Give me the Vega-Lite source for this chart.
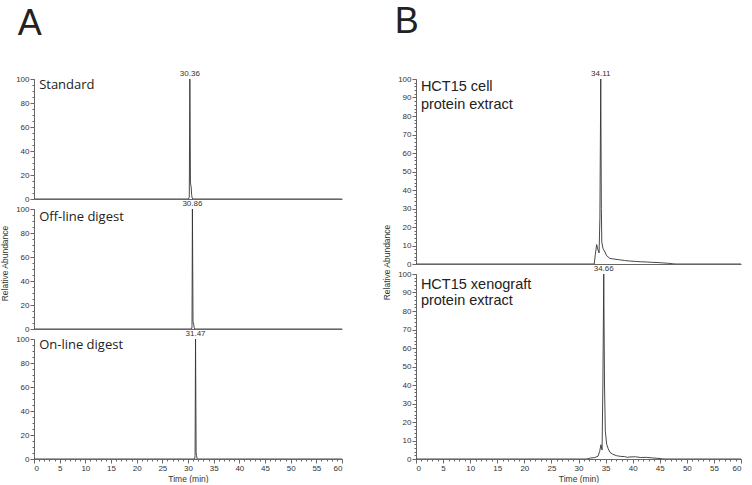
{
"$schema": "https://vega.github.io/schema/vega-lite/v6.json",
"padding": {"left": 0, "top": 4, "right": 0, "bottom": 0},
"background": "white",
"config": {
  "view": {"stroke": null},
  "axis": {"grid": false, "labelFont": "Liberation Sans", "labelFontSize": 8, "labelColor": "#333", "domainColor": "#666", "tickColor": "#666", "titleFont": "Liberation Sans", "titleFontSize": 8.5, "titleFontWeight": "normal", "titleColor": "#333", "labelPadding": 1},
  "title": {"font": "Liberation Sans", "fontSize": 36, "fontWeight": "normal", "color": "#222", "anchor": "start"}
},
"datasets": {
  "chrom": [
    {"panel":"Standard","t":0,"ab":0},{"panel":"Standard","t":28.0,"ab":0},{"panel":"Standard","t":28.1,"ab":0.4},{"panel":"Standard","t":28.2,"ab":0},{"panel":"Standard","t":30.1,"ab":0},{"panel":"Standard","t":30.25,"ab":1.5},{"panel":"Standard","t":30.36,"ab":100},{"panel":"Standard","t":30.48,"ab":14},{"panel":"Standard","t":30.56,"ab":11},{"panel":"Standard","t":30.62,"ab":10},{"panel":"Standard","t":30.7,"ab":4},{"panel":"Standard","t":30.8,"ab":1},{"panel":"Standard","t":30.95,"ab":0},{"panel":"Standard","t":60,"ab":0},
    {"panel":"Offline","t":0,"ab":0},{"panel":"Offline","t":30.7,"ab":0},{"panel":"Offline","t":30.78,"ab":2},{"panel":"Offline","t":30.86,"ab":100},{"panel":"Offline","t":30.98,"ab":6},{"panel":"Offline","t":31.05,"ab":5},{"panel":"Offline","t":31.12,"ab":4},{"panel":"Offline","t":31.2,"ab":1},{"panel":"Offline","t":31.3,"ab":0},{"panel":"Offline","t":60,"ab":0},
    {"panel":"Online","t":0,"ab":0},{"panel":"Online","t":28.5,"ab":0},{"panel":"Online","t":28.6,"ab":0.4},{"panel":"Online","t":28.7,"ab":0},{"panel":"Online","t":31.3,"ab":0},{"panel":"Online","t":31.38,"ab":3},{"panel":"Online","t":31.47,"ab":100},{"panel":"Online","t":31.58,"ab":5},{"panel":"Online","t":31.66,"ab":3},{"panel":"Online","t":31.78,"ab":0},{"panel":"Online","t":60,"ab":0},
    {"panel":"Cell","t":0,"ab":0},{"panel":"Cell","t":32.9,"ab":0},{"panel":"Cell","t":33.1,"ab":5},{"panel":"Cell","t":33.35,"ab":10.5},{"panel":"Cell","t":33.55,"ab":8},{"panel":"Cell","t":33.8,"ab":6},{"panel":"Cell","t":33.95,"ab":25},{"panel":"Cell","t":34.11,"ab":100},{"panel":"Cell","t":34.22,"ab":30},{"panel":"Cell","t":34.3,"ab":12},{"panel":"Cell","t":34.5,"ab":8.5},{"panel":"Cell","t":34.8,"ab":7},{"panel":"Cell","t":35.2,"ab":4.5},{"panel":"Cell","t":35.8,"ab":3},{"panel":"Cell","t":36.5,"ab":2.7},{"panel":"Cell","t":37.5,"ab":2.3},{"panel":"Cell","t":38.5,"ab":1.9},{"panel":"Cell","t":39.5,"ab":1.6},{"panel":"Cell","t":40.5,"ab":1.4},{"panel":"Cell","t":41.5,"ab":1.2},{"panel":"Cell","t":42.5,"ab":1.1},{"panel":"Cell","t":43.5,"ab":0.9},{"panel":"Cell","t":44.5,"ab":0.8},{"panel":"Cell","t":45.5,"ab":0.6},{"panel":"Cell","t":46.5,"ab":0.4},{"panel":"Cell","t":47.5,"ab":0.1},{"panel":"Cell","t":48,"ab":0},{"panel":"Cell","t":60,"ab":0},
    {"panel":"Xeno","t":0,"ab":0},{"panel":"Xeno","t":31.5,"ab":0},{"panel":"Xeno","t":32.2,"ab":0.5},{"panel":"Xeno","t":33.0,"ab":0.8},{"panel":"Xeno","t":33.6,"ab":1.5},{"panel":"Xeno","t":33.9,"ab":4},{"panel":"Xeno","t":34.15,"ab":7.7},{"panel":"Xeno","t":34.35,"ab":4.9},{"panel":"Xeno","t":34.5,"ab":40},{"panel":"Xeno","t":34.66,"ab":100},{"panel":"Xeno","t":34.8,"ab":40},{"panel":"Xeno","t":34.95,"ab":15},{"panel":"Xeno","t":35.2,"ab":8},{"panel":"Xeno","t":35.5,"ab":5.5},{"panel":"Xeno","t":35.8,"ab":3.6},{"panel":"Xeno","t":36.3,"ab":2.6},{"panel":"Xeno","t":37.0,"ab":1.8},{"panel":"Xeno","t":37.8,"ab":1.4},{"panel":"Xeno","t":38.5,"ab":1.3},{"panel":"Xeno","t":39.0,"ab":0.9},{"panel":"Xeno","t":39.5,"ab":1.1},{"panel":"Xeno","t":40.5,"ab":1.2},{"panel":"Xeno","t":41.5,"ab":0.8},{"panel":"Xeno","t":42.5,"ab":0.9},{"panel":"Xeno","t":43.5,"ab":0.6},{"panel":"Xeno","t":44.5,"ab":0.4},{"panel":"Xeno","t":45.5,"ab":0.1},{"panel":"Xeno","t":46,"ab":0},{"panel":"Xeno","t":60,"ab":0}
  ],
  "peaks": [
    {"panel":"Standard","t":30.36,"ab":100,"label":"30.36"},
    {"panel":"Offline","t":30.86,"ab":100,"label":"30.86"},
    {"panel":"Online","t":31.47,"ab":100,"label":"31.47"},
    {"panel":"Cell","t":34.11,"ab":100,"label":"34.11"},
    {"panel":"Xeno","t":34.66,"ab":100,"label":"34.66"}
  ],
  "names": [
    {"panel":"Standard","t":1.0,"ab":95,"name":"Standard"},
    {"panel":"Offline","t":1.0,"ab":93,"name":"Off-line digest"},
    {"panel":"Online","t":1.0,"ab":95,"name":"On-line digest"},
    {"panel":"Cell","t":0.9,"ab":95.5,"name":"HCT15 cell"},
    {"panel":"Cell","t":0.9,"ab":86,"name":"protein extract"},
    {"panel":"Xeno","t":0.9,"ab":94,"name":"HCT15 xenograft"},
    {"panel":"Xeno","t":0.9,"ab":85.4,"name":"protein extract"}
  ]
},
"hconcat": [
  {
    "title": {"text": "A", "dx": 17, "offset": 27},
    "bounds": "flush",
    "spacing": 10,
    "vconcat": [
      {
        "width": 308, "height": 120,
        "resolve": {"axis": {"x": "independent", "y": "independent"}},
        "layer": [
          {"data": {"name": "chrom"}, "transform": [{"filter": "datum.panel === 'Standard'"}],
           "mark": {"type": "line", "color": "#333", "strokeWidth": 0.9, "clip": true},
           "encoding": {
             "x": {"field": "t", "type": "quantitative", "scale": {"domain": [0, 60], "nice": false}, "axis": {"ticks": false, "labels": false, "title": null}},
             "y": {"field": "ab", "type": "quantitative", "scale": {"domain": [0, 100], "nice": false}, "axis": {"values": [0,20,40,60,80,100], "tickSize": 4, "title": null}}
           }},
          {"data": {"name": "peaks"}, "transform": [{"filter": "datum.panel === 'Standard'"}],
           "mark": {"type": "text", "font": "Liberation Sans", "fontSize": 8, "color": "#333", "baseline": "bottom", "dy": -1},
           "encoding": {
             "x": {"field": "t", "type": "quantitative", "scale": {"domain": [0, 60], "nice": false}, "axis": null},
             "y": {"field": "ab", "type": "quantitative", "scale": {"domain": [0, 100], "nice": false}, "axis": {"orient": "left", "values": [0,5,10,15,20,25,30,35,40,45,50,55,60,65,70,75,80,85,90,95,100], "labels": false, "domain": false, "tickSize": 2, "title": null}},
             "text": {"field": "label"}
           }},
          {"data": {"name": "names"}, "transform": [{"filter": "datum.panel === 'Standard'"}],
           "mark": {"type": "text", "font": "Open Sans", "fontSize": 13, "color": "#222", "align": "left", "baseline": "middle"},
           "encoding": {
             "x": {"field": "t", "type": "quantitative", "scale": {"domain": [0, 60], "nice": false}, "axis": null},
             "y": {"field": "ab", "type": "quantitative", "scale": {"domain": [0, 100], "nice": false}, "axis": null},
             "text": {"field": "name"}
           }}
        ]
      },
      {
        "width": 308, "height": 120,
        "resolve": {"axis": {"x": "independent", "y": "independent"}},
        "layer": [
          {"data": {"name": "chrom"}, "transform": [{"filter": "datum.panel === 'Offline'"}],
           "mark": {"type": "line", "color": "#333", "strokeWidth": 0.9, "clip": true},
           "encoding": {
             "x": {"field": "t", "type": "quantitative", "scale": {"domain": [0, 60], "nice": false}, "axis": {"ticks": false, "labels": false, "title": null}},
             "y": {"field": "ab", "type": "quantitative", "scale": {"domain": [0, 100], "nice": false}, "axis": {"values": [0,20,40,60,80,100], "tickSize": 4, "title": "Relative Abundance", "titlePadding": 6, "titleY": 54}}
           }},
          {"data": {"name": "peaks"}, "transform": [{"filter": "datum.panel === 'Offline'"}],
           "mark": {"type": "text", "font": "Liberation Sans", "fontSize": 8, "color": "#333", "baseline": "bottom", "dy": -1},
           "encoding": {
             "x": {"field": "t", "type": "quantitative", "scale": {"domain": [0, 60], "nice": false}, "axis": null},
             "y": {"field": "ab", "type": "quantitative", "scale": {"domain": [0, 100], "nice": false}, "axis": {"orient": "left", "values": [0,5,10,15,20,25,30,35,40,45,50,55,60,65,70,75,80,85,90,95,100], "labels": false, "domain": false, "tickSize": 2, "title": null}},
             "text": {"field": "label"}
           }},
          {"data": {"name": "names"}, "transform": [{"filter": "datum.panel === 'Offline'"}],
           "mark": {"type": "text", "font": "Open Sans", "fontSize": 13, "color": "#222", "align": "left", "baseline": "middle"},
           "encoding": {
             "x": {"field": "t", "type": "quantitative", "scale": {"domain": [0, 60], "nice": false}, "axis": null},
             "y": {"field": "ab", "type": "quantitative", "scale": {"domain": [0, 100], "nice": false}, "axis": null},
             "text": {"field": "name"}
           }}
        ]
      },
      {
        "width": 308, "height": 120,
        "resolve": {"axis": {"x": "independent", "y": "independent"}},
        "layer": [
          {"data": {"name": "chrom"}, "transform": [{"filter": "datum.panel === 'Online'"}],
           "mark": {"type": "line", "color": "#333", "strokeWidth": 0.9, "clip": true},
           "encoding": {
             "x": {"field": "t", "type": "quantitative", "scale": {"domain": [0, 60], "nice": false}, "axis": {"values": [0,5,10,15,20,25,30,35,40,45,50,55,60], "tickSize": 4, "title": "Time (min)", "titlePadding": 2}},
             "y": {"field": "ab", "type": "quantitative", "scale": {"domain": [0, 100], "nice": false}, "axis": {"values": [0,20,40,60,80,100], "tickSize": 4, "title": null}}
           }},
          {"data": {"name": "peaks"}, "transform": [{"filter": "datum.panel === 'Online'"}],
           "mark": {"type": "text", "font": "Liberation Sans", "fontSize": 8, "color": "#333", "baseline": "bottom", "dy": -1},
           "encoding": {
             "x": {"field": "t", "type": "quantitative", "scale": {"domain": [0, 60], "nice": false}, "axis": {"orient": "bottom", "values": [0,1,2,3,4,5,6,7,8,9,10,11,12,13,14,15,16,17,18,19,20,21,22,23,24,25,26,27,28,29,30,31,32,33,34,35,36,37,38,39,40,41,42,43,44,45,46,47,48,49,50,51,52,53,54,55,56,57,58,59,60], "labels": false, "domain": false, "tickSize": 2, "title": null}},
             "y": {"field": "ab", "type": "quantitative", "scale": {"domain": [0, 100], "nice": false}, "axis": {"orient": "left", "values": [0,5,10,15,20,25,30,35,40,45,50,55,60,65,70,75,80,85,90,95,100], "labels": false, "domain": false, "tickSize": 2, "title": null}},
             "text": {"field": "label"}
           }},
          {"data": {"name": "names"}, "transform": [{"filter": "datum.panel === 'Online'"}],
           "mark": {"type": "text", "font": "Open Sans", "fontSize": 13, "color": "#222", "align": "left", "baseline": "middle"},
           "encoding": {
             "x": {"field": "t", "type": "quantitative", "scale": {"domain": [0, 60], "nice": false}, "axis": null},
             "y": {"field": "ab", "type": "quantitative", "scale": {"domain": [0, 100], "nice": false}, "axis": null},
             "text": {"field": "name"}
           }}
        ]
      }
    ]
  },
  {
    "title": {"text": "B", "dx": 12, "offset": 29},
    "bounds": "flush",
    "spacing": 10,
    "vconcat": [
      {
        "width": 325, "height": 185,
        "resolve": {"axis": {"x": "independent", "y": "independent"}},
        "layer": [
          {"data": {"name": "chrom"}, "transform": [{"filter": "datum.panel === 'Cell'"}],
           "mark": {"type": "line", "color": "#333", "strokeWidth": 0.9, "clip": true},
           "encoding": {
             "x": {"field": "t", "type": "quantitative", "scale": {"domain": [0, 60], "nice": false}, "axis": {"ticks": false, "labels": false, "title": null}},
             "y": {"field": "ab", "type": "quantitative", "scale": {"domain": [0, 100], "nice": false}, "axis": {"values": [0,10,20,30,40,50,60,70,80,90,100], "tickSize": 4, "title": "Relative Abundance", "titlePadding": 6, "titleY": 183}}
           }},
          {"data": {"name": "peaks"}, "transform": [{"filter": "datum.panel === 'Cell'"}],
           "mark": {"type": "text", "font": "Liberation Sans", "fontSize": 8, "color": "#333", "baseline": "bottom", "dy": -1},
           "encoding": {
             "x": {"field": "t", "type": "quantitative", "scale": {"domain": [0, 60], "nice": false}, "axis": null},
             "y": {"field": "ab", "type": "quantitative", "scale": {"domain": [0, 100], "nice": false}, "axis": {"orient": "left", "values": [0,2,4,6,8,10,12,14,16,18,20,22,24,26,28,30,32,34,36,38,40,42,44,46,48,50,52,54,56,58,60,62,64,66,68,70,72,74,76,78,80,82,84,86,88,90,92,94,96,98,100], "labels": false, "domain": false, "tickSize": 2, "title": null}},
             "text": {"field": "label"}
           }},
          {"data": {"name": "names"}, "transform": [{"filter": "datum.panel === 'Cell'"}],
           "mark": {"type": "text", "font": "Liberation Sans", "fontSize": 14.5, "color": "#222", "align": "left", "baseline": "middle"},
           "encoding": {
             "x": {"field": "t", "type": "quantitative", "scale": {"domain": [0, 60], "nice": false}, "axis": null},
             "y": {"field": "ab", "type": "quantitative", "scale": {"domain": [0, 100], "nice": false}, "axis": null},
             "text": {"field": "name"}
           }}
        ]
      },
      {
        "width": 325, "height": 185,
        "resolve": {"axis": {"x": "independent", "y": "independent"}},
        "layer": [
          {"data": {"name": "chrom"}, "transform": [{"filter": "datum.panel === 'Xeno'"}],
           "mark": {"type": "line", "color": "#333", "strokeWidth": 0.9, "clip": true},
           "encoding": {
             "x": {"field": "t", "type": "quantitative", "scale": {"domain": [0, 60], "nice": false}, "axis": {"values": [0,5,10,15,20,25,30,35,40,45,50,55,60], "tickSize": 4, "title": "Time (min)", "titlePadding": 2}},
             "y": {"field": "ab", "type": "quantitative", "scale": {"domain": [0, 100], "nice": false}, "axis": {"values": [0,10,20,30,40,50,60,70,80,90,100], "tickSize": 4, "title": null}}
           }},
          {"data": {"name": "peaks"}, "transform": [{"filter": "datum.panel === 'Xeno'"}],
           "mark": {"type": "text", "font": "Liberation Sans", "fontSize": 8, "color": "#333", "baseline": "bottom", "dy": -1},
           "encoding": {
             "x": {"field": "t", "type": "quantitative", "scale": {"domain": [0, 60], "nice": false}, "axis": {"orient": "bottom", "values": [0,1,2,3,4,5,6,7,8,9,10,11,12,13,14,15,16,17,18,19,20,21,22,23,24,25,26,27,28,29,30,31,32,33,34,35,36,37,38,39,40,41,42,43,44,45,46,47,48,49,50,51,52,53,54,55,56,57,58,59,60], "labels": false, "domain": false, "tickSize": 2, "title": null}},
             "y": {"field": "ab", "type": "quantitative", "scale": {"domain": [0, 100], "nice": false}, "axis": {"orient": "left", "values": [0,2,4,6,8,10,12,14,16,18,20,22,24,26,28,30,32,34,36,38,40,42,44,46,48,50,52,54,56,58,60,62,64,66,68,70,72,74,76,78,80,82,84,86,88,90,92,94,96,98,100], "labels": false, "domain": false, "tickSize": 2, "title": null}},
             "text": {"field": "label"}
           }},
          {"data": {"name": "names"}, "transform": [{"filter": "datum.panel === 'Xeno'"}],
           "mark": {"type": "text", "font": "Liberation Sans", "fontSize": 14.5, "color": "#222", "align": "left", "baseline": "middle"},
           "encoding": {
             "x": {"field": "t", "type": "quantitative", "scale": {"domain": [0, 60], "nice": false}, "axis": null},
             "y": {"field": "ab", "type": "quantitative", "scale": {"domain": [0, 100], "nice": false}, "axis": null},
             "text": {"field": "name"}
           }}
        ]
      }
    ]
  }
],
"spacing": 39
}
